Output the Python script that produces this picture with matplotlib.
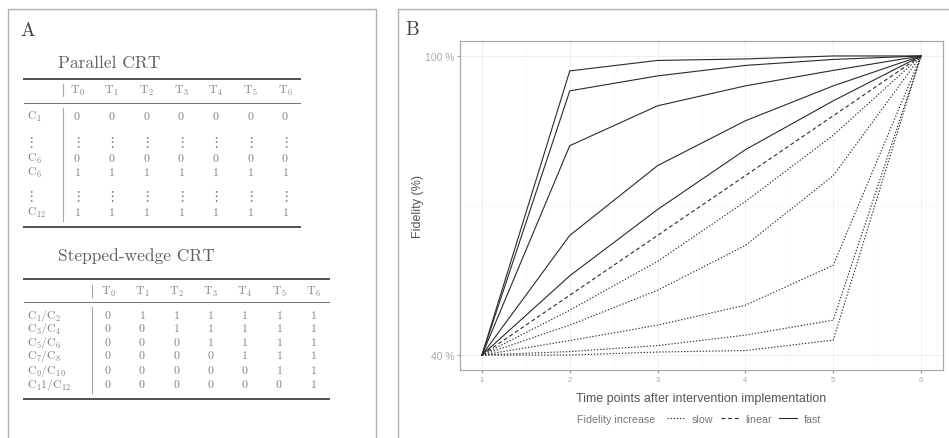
import matplotlib
matplotlib.use("Agg")
import matplotlib.pyplot as plt
from matplotlib.lines import Line2D
from matplotlib.patches import Rectangle

plt.rcParams["mathtext.fontset"] = "cm"

# ---- data: panel A (design tables)
zeitpunkte = ["T_0", "T_1", "T_2", "T_3", "T_4", "T_5", "T_6"]

parallel_labels = ["C_1", None, "C_6", "C_6", None, "C_{12}"]
parallel_werte = [
    [0, 0, 0, 0, 0, 0, 0],
    None,
    [0, 0, 0, 0, 0, 0, 0],
    [1, 1, 1, 1, 1, 1, 1],
    None,
    [1, 1, 1, 1, 1, 1, 1],
]

stepped_labels = ["C_1/C_2", "C_3/C_4", "C_5/C_6", "C_7/C_8", "C_9/C_{10}", "C_1 1/C_{12}"]
stepped_werte = [
    [0, 1, 1, 1, 1, 1, 1],
    [0, 0, 1, 1, 1, 1, 1],
    [0, 0, 0, 1, 1, 1, 1],
    [0, 0, 0, 0, 1, 1, 1],
    [0, 0, 0, 0, 0, 1, 1],
    [0, 0, 0, 0, 0, 0, 1],
]

# ---- data: panel B (fidelity trajectories, %)
zeit = [1, 2, 3, 4, 5, 6]
fast_kurven = [
    [40, 97.0, 99.1, 99.4, 100.0, 100],
    [40, 93.0, 96.0, 98.1, 99.3, 100],
    [40, 82.0, 90.0, 94.0, 97.1, 100],
    [40, 64.0, 78.0, 87.0, 94.0, 100],
    [40, 55.9, 69.2, 81.2, 91.0, 100],
]
linear_kurven = [
    [40, 52.0, 64.0, 76.0, 88.0, 100],
]
slow_kurven = [
    [40, 49.0, 58.8, 70.8, 84.1, 100],
    [40, 46.0, 53.0, 62.0, 76.0, 100],
    [40, 42.9, 46.0, 50.0, 58.0, 100],
    [40, 40.7, 41.9, 44.0, 47.0, 100],
    [40, 40.0, 40.6, 40.9, 43.0, 100],
]

W, H = 949, 439
fig = plt.figure(figsize=(W / 100, H / 100), dpi=100)


def fx(px):
    return px / W


def fy(py):
    return 1 - py / H


# panel frames
fig.patches.append(Rectangle((fx(8), fy(480)), fx(376) - fx(8), fy(10) - fy(480),
                             transform=fig.transFigure, fill=False, ec="#b0b0b0", lw=1))
fig.patches.append(Rectangle((fx(398), fy(480)), fx(1000) - fx(398), fy(10) - fy(480),
                             transform=fig.transFigure, fill=False, ec="#b0b0b0", lw=1))

fig.text(fx(20), fy(31), "A", family="cmr10", fontsize=14, color="#444444", va="center")
fig.text(fx(405), fy(30), "B", family="cmr10", fontsize=14, color="#444444", va="center")

grau = "#808080"


def hline(y, x0, x1, lw, c):
    fig.add_artist(Line2D([fx(x0), fx(x1)], [fy(y), fy(y)], lw=lw, color=c))


def vline(x, y0, y1):
    fig.add_artist(Line2D([fx(x), fx(x)], [fy(y0), fy(y1)], lw=0.8, color="#a8a8a8"))


def zelle(lab):
    # "C_1/C_2" -> mathtext with roman C
    teile = []
    for p in lab.split("/"):
        teile.append("\\mathrm{C}_" + p[2:])
    return "$" + "/".join(teile) + "$"


def tabelle(titel, titel_y, x1, top_y, kopf_y, mid_y, unten_y, bar_x, col_x0, col_dx,
            labels, werte, zeilen_y):
    fig.text(fx(58), fy(titel_y), titel, family="cmr10", fontsize=12.5,
             color="#606060", va="center")
    hline(top_y, 24, x1, 1.4, "#505050")
    hline(mid_y, 24, x1, 0.7, "#707070")
    hline(unten_y, 24, x1, 1.4, "#505050")
    vline(bar_x, kopf_y - 6, kopf_y + 6)
    vline(bar_x, mid_y + 5, unten_y - 6)
    for j, t in enumerate(zeitpunkte):
        fig.text(fx(col_x0 + j * col_dx), fy(kopf_y), "$\\mathrm{T}_%s$" % t[2:],
                 fontsize=8.5, color=grau, ha="center", va="center")
    for lab, row, y in zip(labels, werte, zeilen_y):
        if lab is None:
            fig.text(fx(27), fy(y), r"$\vdots$", fontsize=10.5, color=grau,
                     ha="left", va="center")
            for j in range(len(zeitpunkte)):
                fig.text(fx(col_x0 + j * col_dx), fy(y), r"$\vdots$", fontsize=10.5,
                         color=grau, ha="center", va="center")
            continue
        fig.text(fx(27), fy(y), zelle(lab), fontsize=8.5, color=grau,
                 ha="left", va="center")
        for j, v in enumerate(row):
            fig.text(fx(col_x0 + j * col_dx), fy(y), "$%d$" % v, fontsize=8.5,
                     color=grau, ha="center", va="center")


tabelle("Parallel CRT", 63, 300, 80, 91, 104, 228, 63, 77, 34.7,
        parallel_labels, parallel_werte, [117, 142, 159, 173, 197, 213])
tabelle("Stepped-wedge CRT", 256, 329, 280, 292, 303, 400, 92, 108, 34.2,
        stepped_labels, stepped_werte, [316, 329, 343, 356, 371, 385])

# ---- panel B
ax = fig.add_axes([fx(460), fy(371), fx(943) - fx(460), fy(42) - fy(371)])
linienfarbe = "#2a2a2a"
for k in slow_kurven:
    ax.plot(zeit, k, color=linienfarbe, lw=0.8, linestyle=(0, (1.2, 1.6)))
for k in linear_kurven:
    ax.plot(zeit, k, color=linienfarbe, lw=0.8, linestyle=(0, (3.5, 2.5)))
for k in fast_kurven:
    ax.plot(zeit, k, color=linienfarbe, lw=0.8, linestyle="-")

ax.set_xlim(0.75, 6.25)
ax.set_ylim(37, 103)
ax.set_xticks(zeit)
ax.set_xticks([1.5, 2.5, 3.5, 4.5, 5.5], minor=True)
ax.set_yticks([40, 100])
ax.set_yticklabels(["40 %", "100 %"])
ax.set_yticks([70], minor=True)
ax.grid(which="major", color="#ececec", lw=0.6)
ax.grid(which="minor", color="#f5f5f5", lw=0.4)
ax.set_axisbelow(True)
ax.tick_params(which="minor", length=0)
ax.tick_params(axis="y", which="major", length=2.5, color="#a0a0a0", labelsize=7.5,
               labelcolor="#a8a8a8", pad=1.5)
ax.tick_params(axis="x", which="major", length=2.5, color="#a0a0a0", labelsize=5.5,
               labelcolor="#a8a8a8", pad=1.5)
for t in ax.get_xticklabels() + ax.get_yticklabels():
    t.set_family("Liberation Sans")
for s in ax.spines.values():
    s.set_color("#a8a8a8")
    s.set_linewidth(0.9)

ax.set_xlabel("Time points after intervention implementation", family="Liberation Sans",
              fontsize=9, color="#555555")
ax.xaxis.set_label_coords(0.5, -0.067)
ax.set_ylabel("Fidelity (%)", family="Liberation Sans", fontsize=9, color="#555555")
ax.yaxis.set_label_coords(-0.075, 0.5)

fig.text(fx(577), fy(420), "Fidelity increase", family="Liberation Sans", fontsize=7.7,
         color="#777777", va="center")
handles = [
    Line2D([], [], color=linienfarbe, lw=0.8, linestyle=(0, (1.2, 1.6))),
    Line2D([], [], color=linienfarbe, lw=0.8, linestyle=(0, (3.5, 2.5))),
    Line2D([], [], color=linienfarbe, lw=0.8, linestyle="-"),
]
leg = fig.legend(handles, ["slow", "linear", "fast"], loc="center left",
                 bbox_to_anchor=(fx(667), fy(420)), ncol=3, frameon=False,
                 handlelength=1.7, handletextpad=0.6, columnspacing=0.7,
                 borderpad=0, borderaxespad=0,
                 prop={"family": "Liberation Sans", "size": 7.7})
for t in leg.get_texts():
    t.set_color("#777777")

fig.savefig("out.png", dpi=100)
